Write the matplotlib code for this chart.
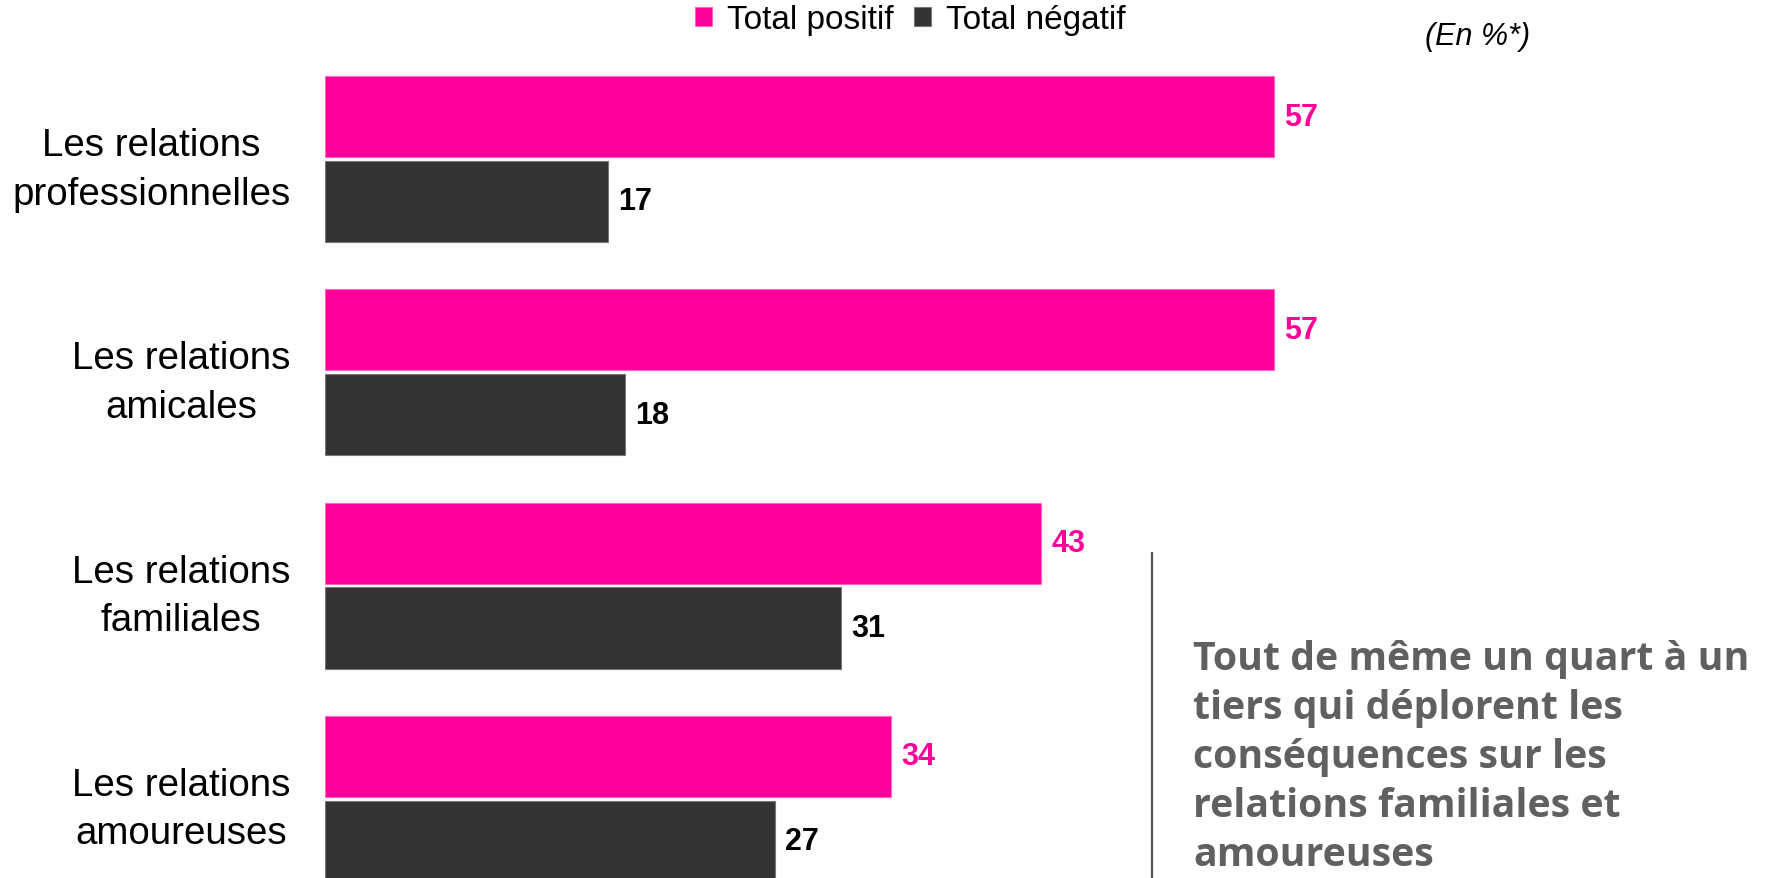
import matplotlib
matplotlib.use("Agg")
import matplotlib.pyplot as plt
from matplotlib.lines import Line2D
import numpy as np

plt.rcParams['font.family'] = ['Liberation Sans', 'DejaVu Sans']

categories = ["Les relations\nprofessionnelles", "Les relations\namicales",
              "Les relations\nfamiliales", "Les relations\namoureuses"]
positif = [57, 57, 43, 34]
negatif = [17, 18, 31, 27]
series_names = ["Total positif", "Total négatif"]
unit_note = "(En %*)"
comment = ("Tout de même un quart à un\ntiers qui déplorent les\n"
           "conséquences sur les\nrelations familiales et\namoureuses")

PINK = "#FF0099"
DARK = "#333333"

W, H = 1771, 879
fig = plt.figure(figsize=(W / 100, H / 100), dpi=100)

px_per_unit = 16.65
x0 = 325
xmax = 86.5
ax = fig.add_axes([x0 / W, 0, xmax * px_per_unit / W, 1])

y = np.arange(len(categories))
off = 0.199
h = 0.38
b1 = ax.barh(y - off, positif, height=h, color=PINK, edgecolor="#FF66C4", linewidth=0.8)
b2 = ax.barh(y + off, negatif, height=h, color=DARK, edgecolor="#777777", linewidth=0.8)

for bar, v in zip(b1, positif):
    ax.annotate(str(v), (bar.get_width(), bar.get_y() + bar.get_height() / 2),
                xytext=(7.5, 0), textcoords="offset points", ha="left", va="center",
                fontsize=22, fontweight="bold", color=PINK)
for bar, v in zip(b2, negatif):
    ax.annotate(str(v), (bar.get_width(), bar.get_y() + bar.get_height() / 2),
                xytext=(7.5, 0), textcoords="offset points", ha="left", va="center",
                fontsize=22, fontweight="bold", color="black")

ax.set_xlim(0, xmax)
ax.set_ylim(3.371, -0.75)
ax.set_yticks(y)
ax.set_yticklabels(categories, fontsize=27.7, linespacing=1.45)
for lab in ax.get_yticklabels():
    lab.set_multialignment("center")
ax.tick_params(axis="y", length=0, pad=25)
ax.set_xticks([])
for s in ax.spines.values():
    s.set_visible(False)

fig.legend([b1, b2], series_names, loc="center", bbox_to_anchor=(910 / W, 1 - 21 / H),
           ncol=2, frameon=False, fontsize=24, handlelength=0.52, handleheight=0.52,
           handletextpad=0.45, columnspacing=0.6, borderpad=0, borderaxespad=0)

fig.text(1478 / W, 1 - 37 / H, unit_note, fontsize=22, style="italic",
         ha="center", va="center")

fig.add_artist(Line2D([1152 / W, 1152 / W], [0, 1 - 554 / H], color="#555555",
                      linewidth=1.6, transform=fig.transFigure))

fig.text(1193 / W, 1 - 866 / H, comment, fontsize=28.3, fontweight="bold",
         color="#606060", ha="left", va="baseline", linespacing=1.33,
         family=["Open Sans", "DejaVu Sans"])

fig.savefig("out.png", dpi=100)
